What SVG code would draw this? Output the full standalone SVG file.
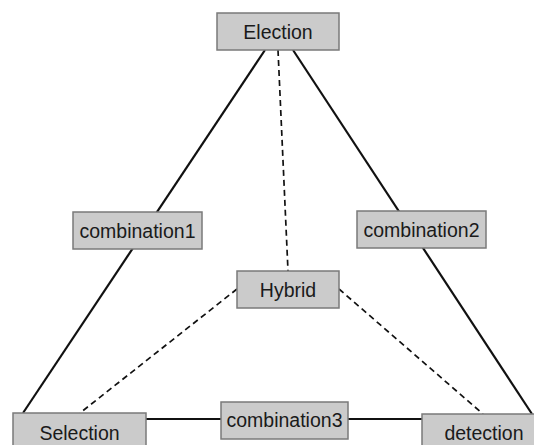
<svg xmlns="http://www.w3.org/2000/svg" width="534" height="445" viewBox="0 0 534 445">
<style>
.box{fill:#cbcbcb;stroke:#7a7a7a;stroke-width:1.5}
.lbl{font-family:"Liberation Sans",Arial,sans-serif;font-size:19.5px;fill:#1a1a1a;text-anchor:middle}
.solid{stroke:#111;stroke-width:2.2;fill:none}
.dash{stroke:#111;stroke-width:1.7;fill:none;stroke-dasharray:6 4}
</style>
<rect width="534" height="445" fill="#fff"/>
<g id="connectors">
<line class="solid" x1="265" y1="50" x2="23" y2="413"/>
<line class="solid" x1="293" y1="50" x2="532" y2="414"/>
<line class="solid" x1="146" y1="419" x2="221" y2="419"/>
<line class="solid" x1="348" y1="419" x2="422" y2="419"/>
<line class="dash" x1="278" y1="50" x2="288" y2="271"/>
<line class="dash" x1="237" y1="289" x2="80" y2="413"/>
<line class="dash" x1="339" y1="289" x2="483" y2="414"/>
</g>
<g id="election"><rect class="box" x="217" y="13" width="122" height="37"/><text class="lbl" x="278" y="38.5">Election</text></g>
<g id="combination1"><rect class="box" x="73" y="212" width="129" height="37"/><text class="lbl" x="137.5" y="238">combination1</text></g>
<g id="combination2"><rect class="box" x="357" y="211" width="129" height="37"/><text class="lbl" x="421.5" y="237">combination2</text></g>
<g id="hybrid"><rect class="box" x="237" y="271" width="102" height="37"/><text class="lbl" x="288" y="296.5">Hybrid</text></g>
<g id="selection"><rect class="box" x="13" y="413" width="133" height="40"/><text class="lbl" x="79.5" y="439.5">Selection</text></g>
<g id="combination3"><rect class="box" x="221" y="402" width="127" height="37"/><text class="lbl" x="284.5" y="426.5">combination3</text></g>
<g id="detection"><rect class="box" x="422" y="414" width="125" height="40"/><text class="lbl" x="484" y="439.5">detection</text></g>
</svg>
